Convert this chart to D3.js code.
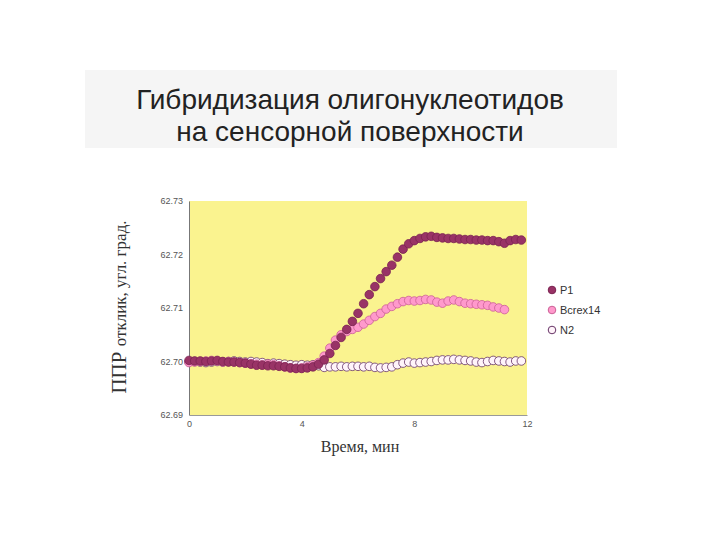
<!DOCTYPE html>
<html><head><meta charset="utf-8">
<script src="https://cdn.jsdelivr.net/npm/d3@7"></script>
<style>body{margin:0;background:#fff}</style>
</head><body><div id="wrapper"></div>
<script>
const step = 0.2;
const p1 = [62.7002,62.7001,62.7001,62.7000,62.7001,62.7002,
 62.7000,62.6999,62.6999,62.6998,62.6997,62.6995,62.6993,62.6993,
 62.6992,62.6992,62.6991,62.6990,62.6988,62.6987,62.6987,62.6988,62.6990,
 62.6995,62.7003,62.7015,62.7030,62.7045,62.7060,62.7075,62.7090,
 62.7108,62.7125,62.7140,62.7155,62.7168,62.7180,62.7195,62.7210,62.7220,62.7226,
 62.7230,62.7233,62.7234,62.7232,62.7231,62.7230,62.7230,62.7229,62.7228,62.7228,62.7227,62.7227,62.7226,62.7226,62.7224,62.7221,62.7226,62.7228,62.7227];
const bcrex14 = [62.6998,62.6999,62.7000,62.7001,62.7002,62.7001,
 62.6999,62.7000,62.6999,62.6998,62.6997,62.6996,62.6995,62.6994,
 62.6995,62.6994,62.6992,62.6990,62.6988,62.6987,62.6988,62.6990,62.6993,
 62.6998,62.7010,62.7025,62.7040,62.7050,62.7056,62.7060,62.7064,
 62.7070,62.7077,62.7084,62.7090,62.7098,62.7103,62.7108,62.7112,62.7114,62.7113,
 62.7114,62.7116,62.7115,62.7111,62.7109,62.7113,62.7115,62.7112,62.7109,62.7108,62.7107,62.7106,62.7105,62.7102,62.7100,62.7097];
const n2 = [62.6999,62.7000,62.6999,62.6998,62.6999,62.7000,
 62.6999,62.7000,62.7001,62.7000,62.6999,62.7000,62.6999,62.6998,
 62.6996,62.6997,62.6996,62.6995,62.6994,62.6993,62.6994,62.6993,62.6994,
 62.6992,62.6989,62.6990,62.6990,62.6991,62.6990,62.6991,62.6991,
 62.6990,62.6991,62.6989,62.6988,62.6989,62.6990,62.6994,62.6997,62.6999,62.6997,
 62.6998,62.6999,62.7000,62.7002,62.7003,62.7003,62.7004,62.7003,62.7002,62.7001,62.6999,62.6998,62.7000,62.7002,62.7001,62.7000,62.6999,62.7001,62.7001];
const yTicks = [62.69, 62.70, 62.71, 62.72, 62.73];
const xTicks = [0, 4, 8, 12];
const series = [
  {name: "P1", values: p1, fill: "#993366", stroke: "#7a2250"},
  {name: "Bcrex14", values: bcrex14, fill: "#ff99cc", stroke: "#cc5f96"},
  {name: "N2", values: n2, fill: "#fff4fa", stroke: "#663366"}
];

const svg = d3.select("#wrapper").append("svg").attr("width", 720).attr("height", 540);

// title
svg.append("rect").attr("x", 85).attr("y", 70).attr("width", 532).attr("height", 78).attr("fill", "#f5f5f5");
["Гибридизация олигонуклеотидов", "на сенсорной поверхности"].forEach((t, i) => {
  svg.append("text").attr("x", 350).attr("y", 109 + i * 32).attr("text-anchor", "middle")
    .style("font-family", "Arial, 'Liberation Sans', sans-serif").style("font-size", "28px").attr("fill", "#222").text(t);
});

const x = d3.scaleLinear().domain([0, 12]).range([189, 527]);
const y = d3.scaleLinear().domain([62.69, 62.73]).range([415, 201]);

svg.append("rect").attr("x", x(0)).attr("y", y(62.73)).attr("width", x(12) - x(0)).attr("height", y(62.69) - y(62.73)).attr("fill", "#faf38f");

const tickFont = g => g.selectAll("text").style("font-family", "Arial, sans-serif").style("font-size", "9px").attr("fill", "#555");
svg.append("g").attr("transform", `translate(${x(0)},0)`)
  .call(d3.axisLeft(y).tickValues(yTicks).tickFormat(d3.format(".2f")).tickSize(0).tickPadding(6))
  .call(g => g.select(".domain").attr("stroke", "#777"))
  .call(tickFont);
svg.append("g").attr("transform", `translate(0,${y(62.69)})`)
  .call(d3.axisBottom(x).tickValues(xTicks).tickSize(0).tickPadding(6))
  .call(g => g.select(".domain").attr("stroke", "#999"))
  .call(tickFont);

series.slice().reverse().forEach(s => {
  svg.append("g").selectAll("circle").data(s.values).join("circle")
    .attr("cx", (d, i) => x(i * step)).attr("cy", d => y(d)).attr("r", 4.3)
    .attr("fill", s.fill).attr("stroke", s.stroke).attr("stroke-width", 0.8);
});

const leg = svg.append("g").attr("transform", "translate(552,290)");
series.forEach((s, i) => {
  leg.append("circle").attr("cx", 0).attr("cy", i * 20).attr("r", 3.8).attr("fill", s.fill).attr("stroke", s.stroke);
  leg.append("text").attr("x", 8).attr("y", i * 20 + 4).style("font-family", "Arial, sans-serif").style("font-size", "11px").attr("fill", "#333").text(s.name);
});

svg.append("text").attr("x", 360).attr("y", 452).attr("text-anchor", "middle")
  .style("font-family", "'Liberation Serif', 'DejaVu Serif', serif").style("font-size", "16px").attr("fill", "#333").text("Время, мин");
const yl = svg.append("text").attr("transform", "translate(126,307) rotate(-90)").attr("text-anchor", "middle")
  .style("font-family", "'Liberation Serif', 'DejaVu Serif', serif").attr("fill", "#333");
yl.append("tspan").style("font-size", "21px").text("ППР ");
yl.append("tspan").style("font-size", "17px").text("отклик, угл. град.");
</script></body></html>
